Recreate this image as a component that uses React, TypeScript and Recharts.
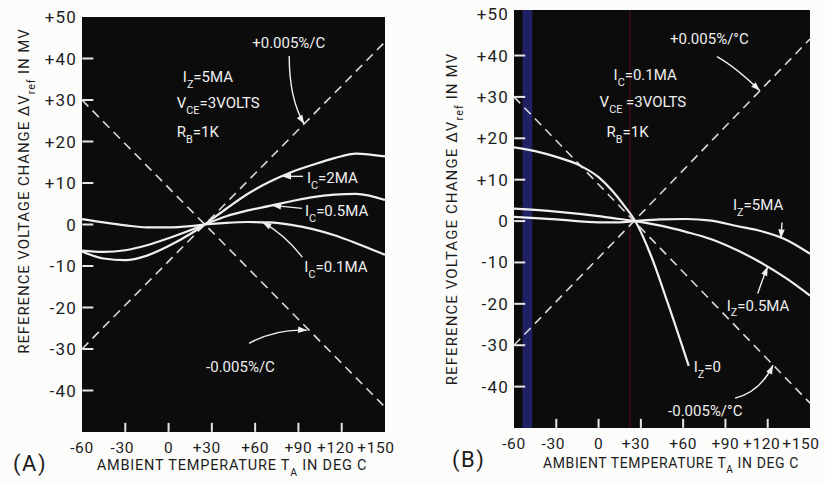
import React from 'react';
import {
  LineChart,
  Line,
  XAxis,
  YAxis,
  CartesianGrid,
  ReferenceDot,
  ReferenceArea,
  ReferenceLine,
} from 'recharts';

// axis ticks
const tempTicks = [-60, -30, 0, 30, 60, 90, 120, 150];
const mvTicks = [-40, -30, -20, -10, 0, 10, 20, 30, 40, 50];
const innerMv = mvTicks.filter((v) => v > -50 && v < 50);
const innerTemps = tempTicks.filter((t) => t > -60 && t < 150);

// +/-0.005 %/C reference lines (same in both panels)
const dashTemps = [-60, 150];
const plusTc = [-30, 44];
const minusTc = [30, -44];

// panel A : I_Z = 5 mA, curves for three collector currents
const tempsA = [-60, -45, -30, -15, 0, 15, 25, 40, 55, 70, 85, 100, 115, 130, 150];
const ic2mA = [-6.5, -8.2, -8.6, -7.5, -5.2, -2.3, 0, 3.8, 7.4, 10.3, 12.6, 14.4, 16.0, 17.1, 16.4];
const ic05mA = [-6.3, -6.6, -6.2, -5.0, -3.3, -1.4, 0, 2.0, 3.4, 4.5, 5.6, 6.6, 7.2, 7.4, 5.9];
const ic01mA = [1.3, 0.5, -0.2, -0.7, -0.7, -0.4, 0, 0.4, 0.6, 0.5, -0.1, -1.1, -2.6, -4.5, -7.3];

// panel B : I_C = 0.1 mA, curves for three zener currents
const tempsIz0 = [-60, -45, -30, -15, 0, 10, 18, 26, 37, 49, 64];
const iz0 = [17.8, 16.9, 15.5, 13.7, 10.6, 7.2, 3.8, 0, -8.2, -19.7, -35];
const tempsB = [-60, -30, 0, 15, 26, 44, 62, 80, 98, 115, 133, 150];
const iz5mA = [1.0, 0.4, -0.3, -0.3, 0, 0.4, 0.5, 0.1, -1.2, -2.4, -4.5, -7.9];
const iz05mA = [3.0, 2.3, 1.2, 0.5, 0, -1.1, -2.6, -4.4, -7.0, -10.0, -13.8, -18.0];

type Pt = { t: number; v: number };
const zip = (ts: number[], vs: number[]): Pt[] => ts.map((t, i) => ({ t, v: vs[i] }));

const FONT = "Roboto, 'DejaVu Sans', sans-serif";
const INK = '#1d1d1d';
const CHALK = '#efefef';
const TICK = '#e6e6e6';

// hand-lettered x labels sit a little left of their ticks
const xLabelShift: Record<number, number> = { '-30': -3, 30: -5, 120: -6, 150: -9 };

// text with _{sub} parts
function RichText({ x, y, s, size = 15, fill = CHALK, anchor = 'start', spacing = 0 }: any) {
  const parts = s.split(/_\{([^}]*)\}/);
  const out: any[] = [];
  let low = false;
  parts.forEach((p: string, i: number) => {
    const isSub = i % 2 === 1;
    if (p === '') return;
    let dy = 0;
    if (isSub && !low) {
      dy = size * 0.38;
      low = true;
    } else if (!isSub && low) {
      dy = -size * 0.38;
      low = false;
    }
    out.push(
      <tspan key={i} dy={dy} fontSize={isSub ? size * 0.72 : size}>
        {p}
      </tspan>
    );
  });
  return (
    <text x={x} y={y} fill={fill} fontFamily={FONT} fontSize={size} textAnchor={anchor} letterSpacing={spacing}>
      {out}
    </text>
  );
}

function Arrow({ x, y, from, ctrl }: any) {
  const [sx, sy] = from;
  const d = ctrl
    ? `M${x + sx},${y + sy} Q${x + ctrl[0]},${y + ctrl[1]} ${x},${y}`
    : `M${x + sx},${y + sy} L${x},${y}`;
  const [bx, by] = ctrl ?? from;
  const ang = Math.atan2(-by, -bx);
  const ux = Math.cos(ang);
  const uy = Math.sin(ang);
  const L = 9;
  const W = 3.2;
  const p1 = `${x - ux * L - uy * W},${y - uy * L + ux * W}`;
  const p2 = `${x - ux * L + uy * W},${y - uy * L - ux * W}`;
  return (
    <g>
      <path d={d} stroke={CHALK} strokeWidth={1.4} fill="none" />
      <polygon points={`${x},${y} ${p1} ${p2}`} fill={CHALK} />
    </g>
  );
}

// annotation anchored at a data point (arrow tip); offsets in px
function Note({ cx, cy, note }: any) {
  return (
    <g>
      {note.from && <Arrow x={cx} y={cy} from={note.from} ctrl={note.ctrl} />}
      {note.lines.map((l: any, i: number) => (
        <RichText key={i} x={cx + l[1]} y={cy + l[2]} s={l[0]} size={15} />
      ))}
    </g>
  );
}

// short white tick mark centred on an anchor just inside the plot edge
function TickMark({ cx, cy, horiz }: any) {
  return horiz ? (
    <path d={`M${cx - 4},${cy} L${cx + 7},${cy}`} stroke={TICK} strokeWidth={2} fill="none" />
  ) : (
    <path d={`M${cx},${cy + 4} L${cx},${cy - 5}`} stroke={TICK} strokeWidth={2} fill="none" />
  );
}

const notesA = [
  { t: 94, v: 24.2, lines: [['+0.005%/C', -52, -76]], from: [-15, -68], ctrl: [-15, -25] },
  { t: 78.6, v: 11.6, lines: [['I_{C}=2MA', 25, 7]], from: [21, 0] },
  { t: 71.7, v: 4.6, lines: [['I_{C}=0.5MA', 33, 11]], from: [30, 3] },
  { t: 65, v: 0.55, lines: [['I_{C}=0.1MA', 42, 50]], from: [40, 35], ctrl: [22, 12] },
  { t: 96, v: -25.5, lines: [['-0.005%/C', -101, 42]], from: [-58, 13], ctrl: [-30, -2] },
  {
    t: 5,
    v: 34,
    lines: [
      ['I_{Z}=5MA', 7, -1],
      ['V_{CE}=3VOLTS', 1, 25],
      ['R_{B}=1K', 1, 54],
    ],
  },
];

const notesB = [
  { t: 114.5, v: 31.5, lines: [['+0.005%/°C', -90, -47]], from: [-43, -34], ctrl: [-25, -24] },
  { t: 129.4, v: -4.2, lines: [['I_{Z}=5MA', -48, -28]], from: [1, -16] },
  { t: 120, v: -11, lines: [['I_{Z}=0.5MA', -41, 44]], from: [-10, 27], ctrl: [-5, 12] },
  { t: 64, v: -35, lines: [['I_{Z}=0', 5, 6]] },
  { t: 123.8, v: -34.8, lines: [['-0.005%/°C', -105, 51]], from: [-38, 33], ctrl: [-13, 27] },
  {
    t: 0,
    v: 34,
    lines: [
      ['I_{C}=0.1MA', 15, 0],
      ['V_{CE} =3VOLTS', 1, 27],
      ['R_{B}=1K', 8, 57],
    ],
  },
];

const fmt = (v: number) => (v > 0 ? `+${v}` : `${v}`);

function XTick({ x, y, payload }: any) {
  const v = payload.value;
  return (
    <text x={x + (xLabelShift[v] ?? 0)} y={y} dy="0.71em" textAnchor="middle" fill={INK} fontSize={15.5} fontFamily={FONT} letterSpacing={0.6}>
      {fmt(v)}
    </text>
  );
}

function Panel({ width, margin, yAxisWidth, xAxisHeight, yDomain, curves, notes, children }: any) {
  return (
    <LineChart width={width} height={482} margin={margin}>
      <CartesianGrid fill="#0c0c0c" stroke="none" horizontal={false} vertical={false} />
      {children}
      <XAxis
        type="number"
        dataKey="t"
        domain={[-60, 150]}
        ticks={tempTicks}
        interval={0}
        height={xAxisHeight}
        axisLine={false}
        tickLine={false}
        tickSize={0}
        tickMargin={10}
        tick={<XTick />}
      />
      <YAxis
        type="number"
        domain={yDomain}
        ticks={mvTicks}
        interval={0}
        width={yAxisWidth}
        axisLine={false}
        tickLine={false}
        tickSize={0}
        tickMargin={5}
        tick={{ fill: INK, fontSize: 17, fontFamily: FONT, letterSpacing: 1.2 }}
        tickFormatter={fmt}
      />
      <Line data={zip(dashTemps, plusTc)} dataKey="v" type="linear" stroke="#d9d9d9" strokeWidth={1.6} strokeDasharray="9 6" dot={false} isAnimationActive={false} />
      <Line data={zip(dashTemps, minusTc)} dataKey="v" type="linear" stroke="#d9d9d9" strokeWidth={1.6} strokeDasharray="9 6" dot={false} isAnimationActive={false} />
      {curves.map((c: Pt[], i: number) => (
        <Line key={i} data={c} dataKey="v" type="monotone" stroke={CHALK} strokeWidth={2.2} dot={false} isAnimationActive={false} />
      ))}
      {innerMv.map((v, i) => (
        <ReferenceDot key={`ty${i}`} x={-57} y={v} r={0} ifOverflow="visible" shape={(p: any) => <TickMark cx={p.cx} cy={p.cy} horiz />} />
      ))}
      {innerTemps.map((t, i) => (
        <ReferenceDot key={`tx${i}`} x={t} y={-49} r={0} ifOverflow="visible" shape={(p: any) => <TickMark cx={p.cx} cy={p.cy} />} />
      ))}
      {notes.map((n: any, i: number) => (
        <ReferenceDot key={i} x={n.t} y={n.v} r={0} ifOverflow="visible" shape={(p: any) => <Note cx={p.cx} cy={p.cy} note={n} />} />
      ))}
    </LineChart>
  );
}

export default function App() {
  return (
    <div style={{ position: 'absolute', left: 0, top: 0, width: 825, height: 482, background: '#fcfcfb', overflow: 'hidden' }}>
      <div style={{ position: 'absolute', left: 0, top: 0 }}>
        <Panel
          width={410}
          margin={{ top: 17, right: 25, bottom: 0, left: 0 }}
          yAxisWidth={82}
          xAxisHeight={50}
          yDomain={[-50, 50]}
          curves={[zip(tempsA, ic2mA), zip(tempsA, ic05mA), zip(tempsA, ic01mA)]}
          notes={notesA}
        />
      </div>
      <div style={{ position: 'absolute', left: 410, top: 0 }}>
        <Panel
          width={415}
          margin={{ top: 10, right: 15, bottom: 0, left: 0 }}
          yAxisWidth={104}
          xAxisHeight={54}
          yDomain={[-50, 51]}
          curves={[zip(tempsIz0, iz0), zip(tempsB, iz5mA), zip(tempsB, iz05mA)]}
          notes={notesB}
        >
          <ReferenceArea x1={-54} x2={-47} y1={-50} y2={51} fill="#22226a" fillOpacity={0.95} stroke="none" />
          <ReferenceLine x={22.3} stroke="#4a1014" strokeWidth={1.2} />
        </Panel>
      </div>
      <svg width={825} height={482} style={{ position: 'absolute', left: 0, top: 0, pointerEvents: 'none' }}>
        <RichText x={13} y={471} s="(A)" size={22} fill={INK} spacing={1.5} />
        <RichText x={232} y={470} s="AMBIENT TEMPERATURE T_{A} IN DEG C" size={14.5} fill={INK} anchor="middle" spacing={0.8} />
        <g transform="rotate(-90 24 191)">
          <RichText x={24} y={196} s="REFERENCE VOLTAGE CHANGE ΔV_{ref} IN MV" size={15} fill={INK} anchor="middle" spacing={0.9} />
        </g>
        <RichText x={452} y={467} s="(B)" size={22} fill={INK} spacing={1.5} />
        <RichText x={671} y={468} s="AMBIENT TEMPERATURE T_{A} IN DEG C" size={14} fill={INK} anchor="middle" spacing={0.6} />
        <g transform="rotate(-90 452 219)">
          <RichText x={452} y={224} s="REFERENCE VOLTAGE CHANGE ΔV_{ref} IN MV" size={15} fill={INK} anchor="middle" spacing={1.1} />
        </g>
      </svg>
    </div>
  );
}
